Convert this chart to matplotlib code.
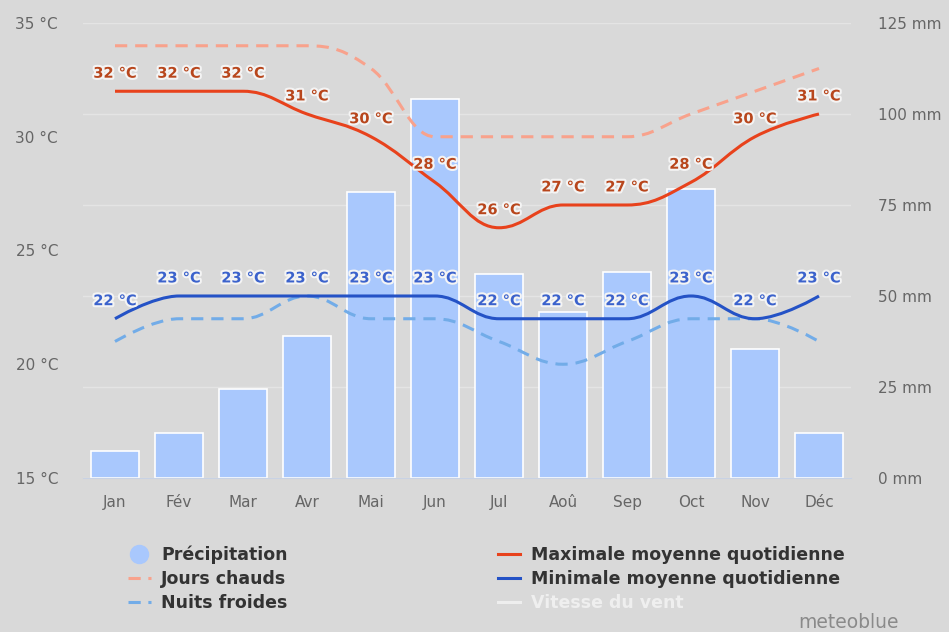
import numpy as np
import matplotlib
matplotlib.use("Agg")
import matplotlib.pyplot as plt
from matplotlib.path import Path
from matplotlib.patches import PathPatch
from matplotlib.lines import Line2D
import matplotlib.patheffects as pe

months = ["Jan", "Fév", "Mar", "Avr", "Mai", "Jun", "Jul", "Aoû", "Sep", "Oct", "Nov", "Déc"]
precip = [7.5, 12.5, 24.5, 39, 78.5, 104, 56, 45.5, 56.5, 79.5, 35.5, 12.5]
t_max = [32, 32, 32, 31, 30, 28, 26, 27, 27, 28, 30, 31]
t_min = [22, 23, 23, 23, 23, 23, 22, 22, 22, 23, 22, 23]
hot_days = [34, 34, 34, 34, 33, 30, 30, 30, 30, 31, 32, 33]
cold_nights = [21, 22, 22, 23, 22, 22, 21, 20, 21, 22, 22, 21]

temp_ticks = [15, 20, 25, 30, 35]
mm_ticks = [0, 25, 50, 75, 100, 125]

BG = "#d9d9d9"
C_BAR = "#a9c8fd"
C_MAX = "#e8421c"
C_MIN = "#2452c6"
C_HOT = "#f8a28c"
C_COLD = "#72ace8"


def spline_path(xs, ys, smoothing=1.5):
    # highcharts-like spline: bezier control points from neighbours
    n = len(xs)
    denom = smoothing + 1
    lc = [(xs[i], ys[i]) for i in range(n)]
    rc = [(xs[i], ys[i]) for i in range(n)]
    for i in range(1, n - 1):
        x, y = xs[i], ys[i]
        lx, ly = xs[i - 1], ys[i - 1]
        nx, ny = xs[i + 1], ys[i + 1]
        lcx = (smoothing * x + lx) / denom
        lcy = (smoothing * y + ly) / denom
        rcx = (smoothing * x + nx) / denom
        rcy = (smoothing * y + ny) / denom
        corr = (rcy - lcy) * (rcx - x) / (rcx - lcx) + y - rcy
        lcy += corr
        rcy += corr
        if lcy > ly and lcy > y:
            lcy = max(ly, y)
            rcy = 2 * y - lcy
        elif lcy < ly and lcy < y:
            lcy = min(ly, y)
            rcy = 2 * y - lcy
        if rcy > ny and rcy > y:
            rcy = max(ny, y)
            lcy = 2 * y - rcy
        elif rcy < ny and rcy < y:
            rcy = min(ny, y)
            lcy = 2 * y - rcy
        lc[i] = (lcx, lcy)
        rc[i] = (rcx, rcy)
    verts = [(xs[0], ys[0])]
    codes = [Path.MOVETO]
    for i in range(1, n):
        verts += [rc[i - 1], lc[i], (xs[i], ys[i])]
        codes += [Path.CURVE4] * 3
    return Path(verts, codes)


x = np.arange(len(months))

fig = plt.figure(figsize=(9.49, 6.32), dpi=100, facecolor=BG)
ax2 = fig.add_axes([83 / 949, 1 - 478 / 632, 768 / 949, 455 / 632])
ax = ax2.twinx()
ax.set_zorder(ax2.get_zorder() + 1)
ax.patch.set_visible(False)
ax2.set_facecolor(BG)

# precipitation bars (right axis)
ax2.bar(x, precip, width=0.76, color=C_BAR, edgecolor="white", linewidth=1.2, zorder=2)
ax2.set_ylim(0, 125)
ax2.set_xlim(-0.5, 11.5)
ax2.set_axisbelow(True)
ax2.yaxis.grid(True, color="#e4e4e4", linewidth=1)

# temperature curves (left axis)
ax.set_ylim(15, 35)
for vals, col, ls in [(hot_days, C_HOT, (0, (4, 2.6))),
                      (cold_nights, C_COLD, (0, (4, 2.6))),
                      (t_max, C_MAX, "-"),
                      (t_min, C_MIN, "-")]:
    p = PathPatch(spline_path(x, vals), fill=False, edgecolor=col, linewidth=2.2,
                  linestyle=ls, capstyle="butt", zorder=3)
    ax.add_patch(p)

halo = [pe.withStroke(linewidth=3, foreground="#f4f4f4")]
for vals, col in [(t_max, "#b8461c"), (t_min, "#3b62cc")]:
    for xi, v in zip(x, vals):
        ax.annotate(f"{v} °C", (xi, v), xytext=(0, 13), textcoords="offset points",
                    ha="center", va="center", fontsize=10.5, fontweight="bold",
                    color=col, path_effects=halo, zorder=5)

# axes styling
for a in (ax, ax2):
    for s in a.spines.values():
        s.set_visible(False)
ax2.spines["bottom"].set_visible(True)
ax2.spines["bottom"].set_color("#c8d2e4")

ax.yaxis.tick_left()
ax2.yaxis.tick_right()
ax.set_yticks(temp_ticks)
ax.set_yticklabels([f"{t} °C" for t in temp_ticks])
ax2.set_yticks(mm_ticks)
ax2.set_yticklabels([f"{m} mm" for m in mm_ticks])
ax.tick_params(axis="y", length=0, pad=18, labelsize=11, labelcolor="#666666")
ax2.tick_params(axis="y", length=0, pad=19.5, labelsize=11, labelcolor="#666666")
ax2.set_xticks(x)
ax2.set_xticklabels(months)
ax2.tick_params(axis="x", length=0, pad=12, labelsize=11, labelcolor="#666666")

# legend
handles = [
    Line2D([], [], marker="o", markersize=13, color=C_BAR, linestyle="none"),
    Line2D([], [], color=C_HOT, linewidth=2.2, linestyle=(0, (4, 2.5))),
    Line2D([], [], color=C_COLD, linewidth=2.2, linestyle=(0, (4, 2.5))),
    Line2D([], [], color=C_MAX, linewidth=2.2),
    Line2D([], [], color=C_MIN, linewidth=2.2),
    Line2D([], [], color="#eeeeee", linewidth=2.2),
]
labels = ["Précipitation", "Jours chauds", "Nuits froides",
          "Maximale moyenne quotidienne", "Minimale moyenne quotidienne", "Vitesse du vent"]
leg = fig.legend(handles, labels, ncol=2, loc="upper left", bbox_to_anchor=(128 / 949, 1 - 546 / 632),
                 frameon=False, handlelength=1.3, handletextpad=0.6, borderpad=0, borderaxespad=0,
                 columnspacing=12.1, labelspacing=0.32, prop={"weight": "bold", "size": 12.5})
for t in leg.get_texts():
    t.set_color("#333333")
leg.get_texts()[5].set_color("#efefef")

fig.text(899 / 949, 1 - 622 / 632, "meteoblue", ha="right", va="center", fontsize=13.5, color="#8a8a8a")

fig.savefig("out.png", dpi=100, facecolor=BG)
